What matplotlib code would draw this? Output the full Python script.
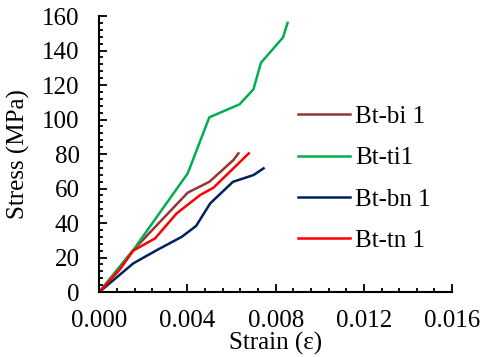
import matplotlib
matplotlib.use("Agg")
import matplotlib.pyplot as plt
from matplotlib.ticker import MultipleLocator

plt.rcParams['font.family'] = ['Liberation Serif', 'DejaVu Serif']

# strain / stress readings per specimen
bi_strain = [0, 0.00154, 0.00276, 0.00401, 0.00499, 0.00608, 0.00631]
bi_stress = [0, 24.3, 40.8, 57.6, 63.9, 76.5, 80.4]

ti_strain = [0, 0.00154, 0.00401, 0.00499, 0.00636, 0.00699, 0.00733, 0.00833, 0.00854]
ti_stress = [0, 24.3, 68.8, 101.3, 108.8, 117.5, 132.9, 147.6, 156.1]

bn_strain = [0, 0.00154, 0.00261, 0.00374, 0.00439, 0.00503, 0.00606, 0.00699, 0.00745]
bn_stress = [0, 16.6, 24.3, 32.0, 38.3, 51.4, 63.9, 67.8, 71.7]

tn_strain = [0, 0.00094, 0.00154, 0.00253, 0.00351, 0.00457, 0.00518, 0.00608, 0.00678]
tn_stress = [0, 13.2, 24.0, 31.1, 45.6, 56.2, 60.5, 71.7, 80.4]

fig = plt.figure(figsize=(4.82, 3.57), dpi=100)
ax = fig.add_axes([0.206, 0.182, 0.732, 0.773])

lw = 1.8
l1, = ax.plot(bi_strain, bi_stress, color="#943634", lw=lw, label="Bt-bi 1")
l2, = ax.plot(ti_strain, ti_stress, color="#00B050", lw=lw, label="Bt-ti1")
l3, = ax.plot(bn_strain, bn_stress, color="#002060", lw=lw, label="Bt-bn 1")
l4, = ax.plot(tn_strain, tn_stress, color="#FF0000", lw=lw, label="Bt-tn 1")

ax.set_xlim(0, 0.016)
ax.set_ylim(0, 160)
ax.xaxis.set_major_locator(MultipleLocator(0.004))
ax.xaxis.set_minor_locator(MultipleLocator(0.0008))
ax.yaxis.set_major_locator(MultipleLocator(20))
ax.yaxis.set_minor_locator(MultipleLocator(4))
ax.xaxis.set_major_formatter(plt.FuncFormatter(lambda v, p: f"{v:.3f}"))

for s in ["top", "right"]:
    ax.spines[s].set_visible(False)
for s in ["left", "bottom"]:
    ax.spines[s].set_linewidth(1.5)

fs = 18
ax.tick_params(which="major", direction="in", length=6, width=1.3, labelsize=fs)
ax.tick_params(which="minor", direction="in", length=3, width=1.3)
ax.tick_params(axis="x", pad=13)
ax.tick_params(axis="y", pad=14)

ax.set_xlabel("Strain (ε)", fontsize=fs, labelpad=0)
ax.set_ylabel("Stress (MPa)", fontsize=fs, labelpad=9)

fig.legend(handles=[l1, l2, l3, l4], loc="upper left", bbox_to_anchor=(0.597, 0.732),
           frameon=False, fontsize=fs, handlelength=2.1, handletextpad=0.2,
           labelspacing=0.75, borderaxespad=0)

fig.savefig("out.png", dpi=100)
